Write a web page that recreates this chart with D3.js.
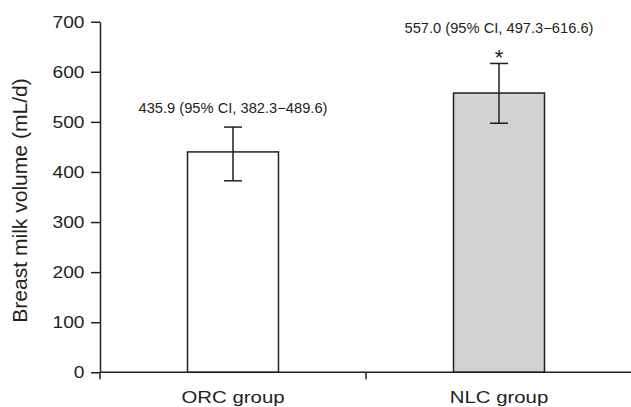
<!DOCTYPE html>
<html><head><meta charset="utf-8">
<script src="https://cdn.jsdelivr.net/npm/d3@7"></script>
<style>body{margin:0;background:#fff;font-family:Arial,"Liberation Sans",sans-serif}</style>
</head><body><svg id="c" width="631" height="407"></svg>
<script>
const categories = ["ORC group", "NLC group"];
const means = [440, 557.6];
const ciLow = [382.3, 497.3];
const ciHigh = [489.6, 616.6];
const labels = ["435.9 (95% CI, 382.3\u2212489.6)", "557.0 (95% CI, 497.3\u2212616.6)"];
const significant = [false, true];
const fills = ["#ffffff", "#d1d2d4"];
const yTicks = [0, 100, 200, 300, 400, 500, 600, 700];

const ink = "#231f20";
const FONT = "Arial, Liberation Sans, sans-serif";
const svg = d3.select("#c");
const x = d3.scaleBand().domain(categories).range([100, 632]).paddingInner(0.658).paddingOuter(0.329);
const y = d3.scaleLinear().domain([0, 700]).range([372.3, 21.7]);
const bw = x.bandwidth();
const cx = d => x(d) + bw / 2;

// horizontal stretch helper (reference typeface is wider than Arial)
function stretch(sel, s) {
  sel.each(function() {
    const X = +this.getAttribute("x") || 0;
    this.setAttribute("transform", `translate(${X},0) scale(${s},1) translate(${-X},0)`);
  });
}

// bars
svg.selectAll("rect.bar").data(categories).join("rect")
  .attr("x", d => x(d)).attr("width", bw)
  .attr("y", (d, i) => y(means[i])).attr("height", (d, i) => y(0) - y(means[i]))
  .attr("fill", (d, i) => fills[i]).attr("stroke", ink).attr("stroke-width", 1.5);

// error bars
const eb = svg.selectAll("g.eb").data(categories).join("g").attr("stroke", ink).attr("stroke-width", 1.5);
eb.append("line").attr("x1", cx).attr("x2", cx).attr("y1", (d, i) => y(ciLow[i])).attr("y2", (d, i) => y(ciHigh[i]));
eb.append("line").attr("x1", d => cx(d) - 9).attr("x2", d => cx(d) + 9).attr("y1", (d, i) => y(ciLow[i])).attr("y2", (d, i) => y(ciLow[i]));
eb.append("line").attr("x1", d => cx(d) - 9).attr("x2", d => cx(d) + 9).attr("y1", (d, i) => y(ciHigh[i])).attr("y2", (d, i) => y(ciHigh[i]));

// annotations
const ann = svg.selectAll("text.ann").data(categories).join("text")
  .attr("x", cx).attr("y", (d, i) => y(ciHigh[i]) - (significant[i] ? 30 : 14))
  .attr("text-anchor", "middle").attr("font-size", 14).attr("fill", ink)
  .text((d, i) => labels[i]);
stretch(ann, 1.05);
svg.selectAll("text.star").data(categories.filter((d, i) => significant[i])).join("text")
  .attr("x", cx).attr("y", d => y(ciHigh[categories.indexOf(d)]) + 2)
  .attr("text-anchor", "middle").attr("font-size", 22).attr("fill", ink).text("*");

// y axis
const ya = svg.append("g").attr("transform", "translate(100,0)")
  .call(d3.axisLeft(y).tickValues(yTicks).tickSize(9).tickPadding(6.5).tickSizeOuter(0));
ya.selectAll("text").attr("font-size", 17).attr("fill", ink).attr("font-family", FONT);
stretch(ya.selectAll("text"), 1.13);
ya.selectAll("line,path").attr("stroke", ink).attr("stroke-width", 1.5);

// x axis
const xa = svg.append("g").attr("transform", `translate(0,${y(0)})`)
  .call(d3.axisBottom(x).tickSize(0));
xa.select("path").remove();
xa.selectAll("line").remove();
xa.selectAll(".tick text").attr("font-size", 17).attr("fill", ink).attr("font-family", FONT)
  .attr("y", 31).attr("dy", 0);
stretch(xa.selectAll(".tick text"), 1.2);
xa.append("line").attr("x1", 100).attr("x2", 632).attr("stroke", ink).attr("stroke-width", 1.5);
const sep = [100, (x(categories[0]) + bw + x(categories[1])) / 2, 632];
xa.selectAll("line.sep").data(sep).join("line").attr("class", "sep")
  .attr("x1", d => d).attr("x2", d => d).attr("y1", 0).attr("y2", 7)
  .attr("stroke", ink).attr("stroke-width", 1.5);

// y label
svg.append("text").attr("transform", "translate(27,200.5) rotate(-90) scale(1.08,1)")
  .attr("text-anchor", "middle").attr("font-size", 19.5).attr("fill", ink)
  .text("Breast milk volume (mL/d)");
</script></body></html>
